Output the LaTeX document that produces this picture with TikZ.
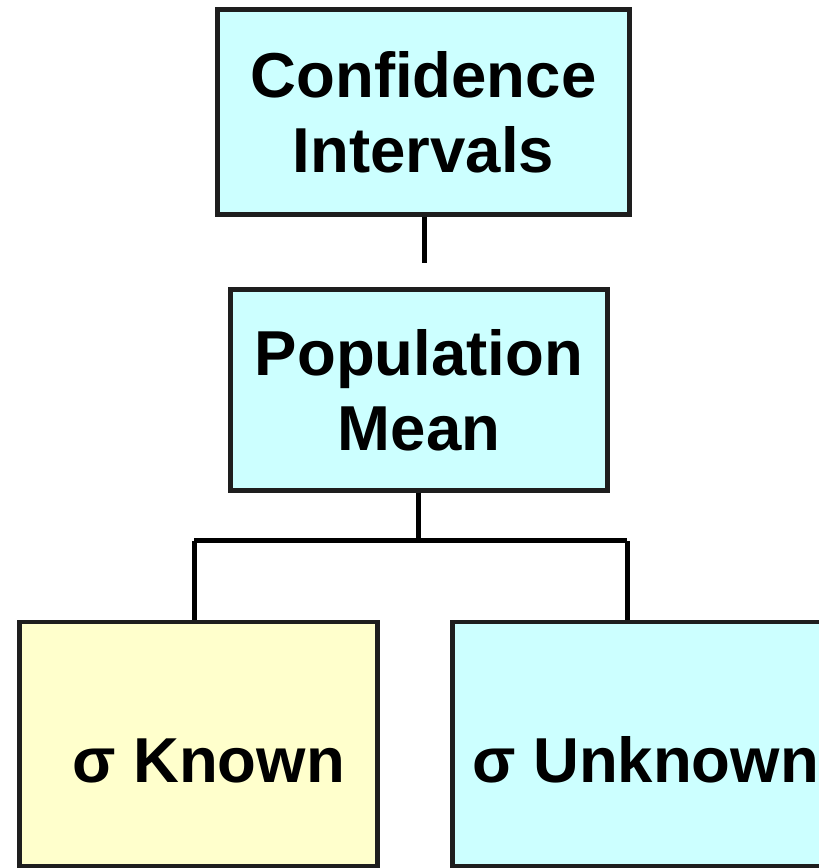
\documentclass[tikz,border=0pt]{standalone}
\usepackage{fontspec}
\setmainfont{Liberation Sans}
\definecolor{cyanbg}{HTML}{CCFFFF}
\definecolor{yellowbg}{HTML}{FFFFCC}
\definecolor{edge}{HTML}{1E1E1E}
\begin{document}
\begin{tikzpicture}[x=1pt,y=1pt,
  box/.style={draw=edge, line width=4.5pt, inner sep=0pt, align=center,
    font=\bfseries\fontsize{63.5}{75}\selectfont},
  lbl/.style={inner sep=0pt, anchor=base west, font=\bfseries\fontsize{63.5}{75}\selectfont},
  conn/.style={line width=5pt, draw=black}]
\useasboundingbox (0,0) rectangle (819,868);
\clip (0,0) rectangle (819,868);
\node[box, fill=cyanbg, minimum width=412pt, minimum height=205pt] (ci) at (423.5,756) {Confidence\\Intervals};
\node[box, fill=cyanbg, minimum width=377pt, minimum height=201pt] (pm) at (419,478) {Population\\Mean};
\node[box, fill=yellowbg, minimum width=358pt, minimum height=244pt] (kn) at (198.5,124) {};
\node[box, fill=cyanbg, minimum width=447pt, minimum height=244pt] (un) at (676,124) {};
\node[lbl] (knt) at (72,85) {σ Known};
\node[lbl] (unt) at (472,85) {σ Unknown};
\coordinate (cie) at (424,605);
\draw[conn] (ci.south -| cie) -- (cie);
\coordinate (bar) at (418,327);
\coordinate (bl) at (194,327);
\coordinate (br) at (627,327);
\draw[conn] (pm.south -| bar) -- (bar);
\draw[conn] (bl) -- (br);
\draw[conn] (bl) -- (bl |- kn.north);
\draw[conn] (br) -- (br |- un.north);
\end{tikzpicture}
\end{document}
